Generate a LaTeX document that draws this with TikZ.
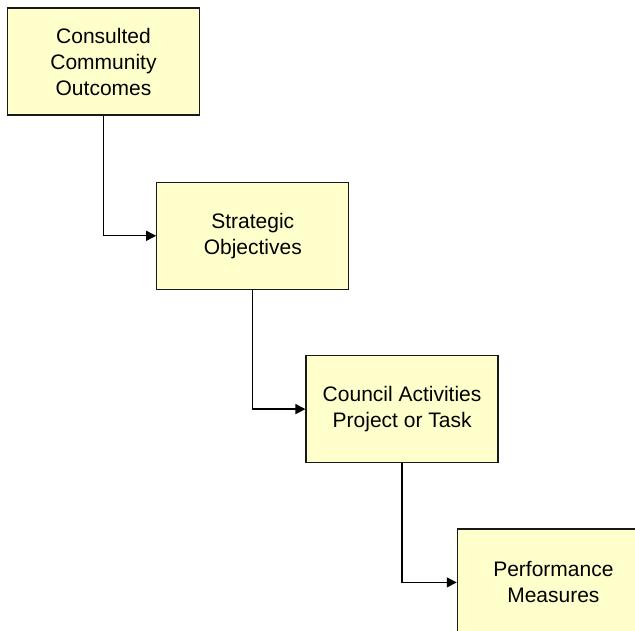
\documentclass[tikz,border=0pt]{standalone}
\usepackage{fontspec}
\setmainfont{Liberation Sans}
\usetikzlibrary{positioning, arrows.meta}
\definecolor{boxfill}{HTML}{FFFFCC}
\tikzset{
	>={Triangle[length=10pt,width=10pt]}, % punta de flecha rellena
	every node/.style={font=\fontsize{21}{26}\selectfont}, % texto de las cajas
	levelbox/.style={draw=black!90, fill=boxfill, line width=1.3pt,
		minimum width=192pt, minimum height=107pt, align=center, inner sep=0pt}, % cajas
	link/.style={->, line width=1.3pt} % conectores
}

\begin{document}
\begin{tikzpicture}
	\useasboundingbox (0,0) rectangle (635pt,-630pt);
	\clip (0,0) rectangle (635pt,-630pt);
	\node[levelbox] (outcomes) at (103.5pt,-61.5pt) {Consulted\\Community\\Outcomes};
	\node[levelbox, below right=66pt and -44pt of outcomes] (objectives) {Strategic\\Objectives};
	\node[levelbox, below right=65pt and -44pt of objectives] (activities) {Council Activities\\Project or Task};
	\node[levelbox, below right=65pt and -42pt of activities] (measures) {Performance\\Measures};
	\draw[link] (outcomes.south) |- (objectives.west);
	\draw[link] (objectives.south) |- (activities.west);
	\draw[link] (activities.south) |- (measures.west);
\end{tikzpicture}
\end{document}
